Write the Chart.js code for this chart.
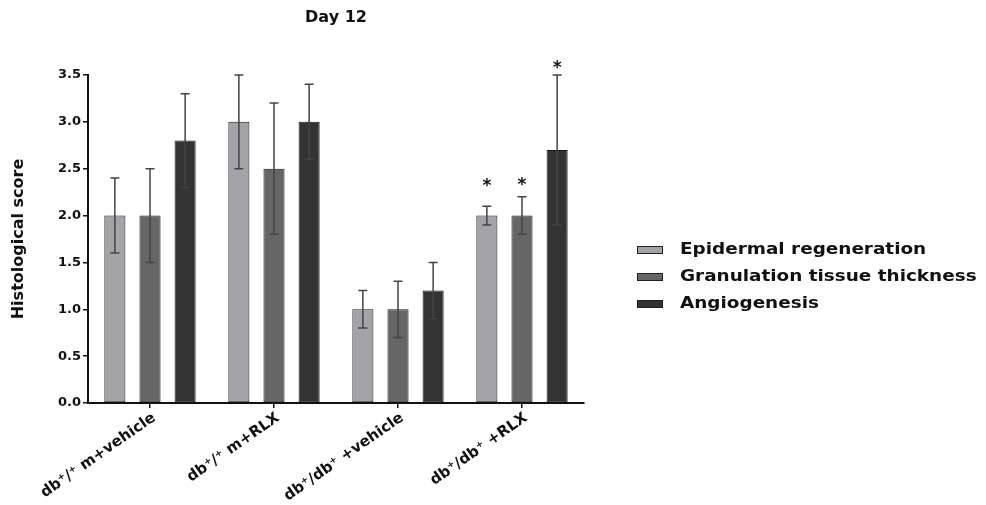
<!DOCTYPE html>
<html>
<head>
<meta charset="utf-8">
<script src="https://cdn.jsdelivr.net/npm/chart.js@4.4.1/dist/chart.umd.min.js"></script>
<style>
  html, body { margin: 0; padding: 0; background: #fff; }
</style>
</head>
<body>
<canvas id="chart" width="986" height="505"></canvas>
<script>
// data
const groups = ['db\u207A/\u207A m+vehicle', 'db\u207A/\u207A m+RLX', 'db\u207A/db\u207A +vehicle', 'db\u207A/db\u207A +RLX'];
const seriesNames = ['Epidermal regeneration', 'Granulation tissue thickness', 'Angiogenesis'];
const seriesColors = ['#a3a3a8', '#666666', '#333333'];

const epidermal = [2.0, 3.0, 1.0, 2.0];
const epidermalErr = [0.4, 0.5, 0.2, 0.1];
const granulation = [2.0, 2.5, 1.0, 2.0];
const granulationErr = [0.5, 0.7, 0.3, 0.2];
const angiogenesis = [2.8, 3.0, 1.2, 2.7];
const angiogenesisErr = [0.5, 0.4, 0.3, 0.8];

// height of the significance asterisks (in score units), null = none
const epidermalStar = [null, null, null, 2.34];
const granulationStar = [null, null, null, 2.35];
const angiogenesisStar = [null, null, null, 3.6];

const yTicks = [0, 0.5, 1.0, 1.5, 2.0, 2.5, 3.0, 3.5];

const FONT = "'DejaVu Sans', sans-serif";

function makeSet(i, vals, errs, stars) {
  return {
    label: seriesNames[i],
    data: vals,
    errors: errs,
    stars: stars,
    backgroundColor: seriesColors[i],
    borderColor: '#1a1a1a',
    borderWidth: 1,
    borderSkipped: false,
    categoryPercentage: 0.85,
    barPercentage: 0.6
  };
}

// error bars + asterisks
const errorBars = {
  id: 'errorBars',
  afterDatasetsDraw(chart) {
    const ctx = chart.ctx;
    const y = chart.scales.y;
    chart.data.datasets.forEach((ds, i) => {
      const meta = chart.getDatasetMeta(i);
      meta.data.forEach((bar, j) => {
        const v = ds.data[j], e = ds.errors[j];
        const top = y.getPixelForValue(v + e);
        const bot = y.getPixelForValue(v - e);
        ctx.save();
        ctx.strokeStyle = '#444';
        ctx.lineWidth = 1.5;
        ctx.beginPath();
        ctx.moveTo(bar.x, top); ctx.lineTo(bar.x, bot);
        ctx.moveTo(bar.x - 4.5, top); ctx.lineTo(bar.x + 4.5, top);
        ctx.moveTo(bar.x - 4.5, bot); ctx.lineTo(bar.x + 4.5, bot);
        ctx.stroke();
        const s = ds.stars[j];
        if (s != null) {
          ctx.fillStyle = '#111';
          ctx.font = 'bold 17px ' + FONT;
          ctx.textAlign = 'center';
          ctx.textBaseline = 'middle';
          ctx.fillText('*', bar.x, y.getPixelForValue(s) + 3);
        }
        ctx.restore();
      });
    });
  }
};

// legend on the right, drawn by hand (text a bit wider, like the source)
const sideLegend = {
  id: 'sideLegend',
  afterDraw(chart) {
    const ctx = chart.ctx;
    ctx.save();
    chart.data.datasets.forEach((ds, i) => {
      const cy = 250 + i * 27;
      ctx.fillStyle = ds.backgroundColor;
      ctx.fillRect(637, cy - 4, 26, 8);
      ctx.strokeStyle = '#222';
      ctx.lineWidth = 1;
      ctx.strokeRect(637.5, cy - 3.5, 25, 7);
      ctx.save();
      ctx.translate(680, cy);
      ctx.scale(1.15, 1);
      ctx.fillStyle = '#111';
      ctx.font = 'bold 16px ' + FONT;
      ctx.textAlign = 'left';
      ctx.textBaseline = 'middle';
      ctx.fillText(ds.label, 0, 0);
      ctx.restore();
    });
    ctx.restore();
  }
};

new Chart(document.getElementById('chart'), {
  type: 'bar',
  data: {
    labels: groups,
    datasets: [
      makeSet(0, epidermal, epidermalErr, epidermalStar),
      makeSet(1, granulation, granulationErr, granulationStar),
      makeSet(2, angiogenesis, angiogenesisErr, angiogenesisStar)
    ]
  },
  options: {
    responsive: false,
    animation: false,
    layout: { padding: { top: 0, left: 0, right: 402, bottom: 0 } },
    plugins: {
      legend: { display: false },
      tooltip: { enabled: false },
      title: {
        display: true,
        text: 'Day 12',
        fullSize: false,
        color: '#111',
        font: { family: FONT, size: 16, weight: 'bold', lineHeight: 1.2 },
        padding: { top: 8, bottom: 47.8 }
      }
    },
    scales: {
      x: {
        afterFit(s) { s.height = 102; },
        border: { color: '#111', width: 2 },
        grid: { display: true, offset: false, drawOnChartArea: false, drawTicks: true, tickLength: 5, color: '#111', lineWidth: 1.5 },
        ticks: {
          color: '#111',
          font: { family: FONT, size: 15, weight: 'bold' },
          minRotation: 35,
          maxRotation: 35,
          labelOffset: 4,
          padding: 1
        }
      },
      y: {
        min: 0,
        max: 3.5,
        afterFit(s) { s.width = 88; },
        afterBuildTicks(s) { s.ticks = yTicks.map(v => ({ value: v })); },
        border: { color: '#111', width: 2 },
        grid: { display: true, drawOnChartArea: false, drawTicks: true, tickLength: 5, color: '#111', lineWidth: 1.5 },
        title: {
          display: true,
          text: 'Histological score',
          color: '#111',
          font: { family: FONT, size: 16, weight: 'bold' },
          padding: { top: 9, bottom: 4 }
        },
        ticks: {
          color: '#111',
          font: { family: FONT, size: 13, weight: 'bold' },
          padding: 2,
          callback: v => Number(v).toFixed(1)
        }
      }
    }
  },
  plugins: [errorBars, sideLegend]
});
</script>
</body>
</html>
